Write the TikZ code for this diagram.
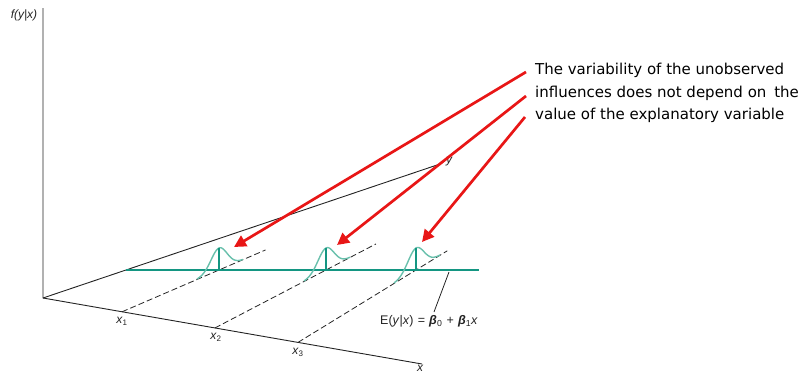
\documentclass[tikz,border=0pt]{standalone}
\usepackage{fontspec}
\setmainfont{DejaVu Sans}
\newfontfamily\lblfont{Liberation Sans}
\usetikzlibrary{calc,arrows.meta}
\definecolor{tealline}{RGB}{20,150,130}
\definecolor{bellc}{RGB}{105,192,172}
\definecolor{arrowred}{RGB}{232,22,22}
\definecolor{axisgray}{RGB}{35,35,35}
\tikzset{
 axisline/.style={draw=axisgray, line width=0.9pt},
 guide/.style={draw=axisgray, line width=0.8pt, dash pattern=on 6pt off 3pt},
 regline/.style={draw=tealline, line width=1.7pt},
 bellcurve/.style={draw=bellc, line width=1.4pt},
 peakline/.style={draw=tealline, line width=1.4pt},
 callout/.style={draw=arrowred, line width=2.7pt, -{Triangle[length=12pt,width=12pt]}},
 lbl/.style={font=\lblfont\fontsize{12}{14}\selectfont, text=axisgray, inner sep=0pt},
 note/.style={font=\fontsize{15}{22.5}\selectfont, align=left, inner sep=0pt, anchor=west},
}
\begin{document}
\begin{tikzpicture}[x=1pt,y=-1pt]
\useasboundingbox (0,0) rectangle (810,375);
% axes
\coordinate (O) at (43,298);
\coordinate (ftop) at (43,8);
\coordinate (xend) at (422,364);
\coordinate (yend) at (440,164);
\draw[axisline] (ftop) -- (O) -- (xend);
\draw[axisline] (O) -- (yend);
\node[lbl, font=\lblfont\itshape\fontsize{12}{14}\selectfont] (flbl) at (24,15) {f(y|x)};
\node[lbl, font=\lblfont\itshape\fontsize{12}{14}\selectfont] (xlbl) at (420,368.5) {x};
\node[lbl, font=\lblfont\itshape\fontsize{12}{14}\selectfont] (ylbl) at (449,162) {y};
% points on x axis
\coordinate (x1) at (122,311.8);
\coordinate (x2) at (215,327.9);
\coordinate (x3) at (298,342.4);
\node[lbl] (x1l) at (122,321.5) {\textit{x}\textsubscript{1}};
\node[lbl] (x2l) at (216,337.5) {\textit{x}\textsubscript{2}};
\node[lbl] (x3l) at (298,352.5) {\textit{x}\textsubscript{3}};
% points on regression line
\coordinate (P1) at (219,270);
\coordinate (P2) at (326,270);
\coordinate (P3) at (416,270);
\coordinate (rstart) at (126,270);
\coordinate (rend) at (479,270);
% dashed guides
\draw[guide] (x1) -- ($(x1)!1.48!(P1)$);
\draw[guide] (x2) -- ($(x2)!1.45!(P2)$);
\draw[guide] (x3) -- ($(x3)!1.265!(P3)$);
% regression line
\draw[regline] (rstart) -- (rend);
% bells
\foreach \P/\m in {P1/-0.431, P2/-0.522, P3/-0.614}{
  \begin{scope}[shift={(\P)}]
    \draw[bellcurve] plot[domain=-22:24, samples=60, smooth] ({\x},{\m*\x - 22*exp(-((\x/8)^2)/2)});
  \end{scope}
  \draw[peakline] (\P) -- ++(0,-22);
}
% E(y|x) label
\coordinate (lead1) at (449,272);
\coordinate (lead2) at (434,312);
\draw[axisline, line width=0.8pt] (lead1) -- (lead2);
\node[lbl, anchor=west, font=\lblfont\fontsize{12.5}{14}\selectfont] (elbl) at (380,321)
  {E(\textit{y}|\textit{x})\,\,=\,\,\textbf{\textit{β}}\textsubscript{0}\,\,+\,\,\textbf{\textit{β}}\textsubscript{1}\textit{x}};
% note and arrows
\node[note] (note) at (535,93) {The variability of the unobserved\\influences does not depend on\hspace{3pt} the\\value of the explanatory variable};
\coordinate (s1) at (526,72);
\coordinate (s2) at (526,96);
\coordinate (s3) at (525,117);
\coordinate (t1) at (234,247);
\coordinate (t2) at (337,245);
\coordinate (t3) at (422,242);
\draw[callout] (s1) -- (t1);
\draw[callout] (s2) -- (t2);
\draw[callout] (s3) -- (t3);
\end{tikzpicture}
\end{document}
